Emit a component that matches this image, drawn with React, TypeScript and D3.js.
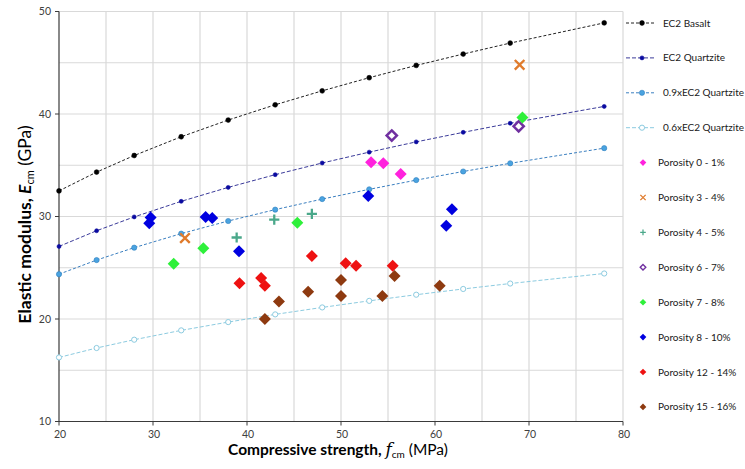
import React from "react";
import * as d3 from "d3";

// EC2 reference lines (compressive strength fcm, MPa)
const ec2Fcm = [20, 24, 28, 33, 38, 43, 48, 53, 58, 63, 68, 78];
const ec2Basalt = [32.5, 34.33, 35.95, 37.78, 39.41, 40.9, 42.26, 43.54, 44.74, 45.85, 46.92, 48.89];
const ec2Quartzite = [27.08, 28.61, 29.96, 31.48, 32.84, 34.08, 35.22, 36.28, 37.28, 38.21, 39.1, 40.74];
const ec2Q09 = [24.37, 25.75, 26.96, 28.33, 29.56, 30.67, 31.7, 32.65, 33.55, 34.39, 35.19, 36.67];
const ec2Q06 = [16.25, 17.17, 17.98, 18.89, 19.7, 20.45, 21.13, 21.77, 22.37, 22.93, 23.46, 24.44];

// Measured data [fcm, Ecm]
const por0_1: [number, number][] = [[53.2, 35.3], [54.5, 35.2], [56.35, 34.15]];
const por3_4: [number, number][] = [[33.4, 27.9], [69.0, 44.8]];
const por4_5: [number, number][] = [[38.9, 27.95], [42.9, 29.7], [46.9, 30.25]];
const por6_7: [number, number][] = [[55.4, 37.9], [68.9, 38.8]];
const por7_8: [number, number][] = [[32.2, 25.4], [35.35, 26.9], [45.35, 29.4], [69.3, 39.65]];
const por8_10: [number, number][] = [[29.6, 29.35], [29.75, 29.9], [35.6, 29.95], [36.3, 29.85], [39.15, 26.6], [52.9, 32.0], [61.2, 29.1], [61.8, 30.7]];
const por12_14: [number, number][] = [[39.2, 23.5], [41.5, 24.0], [41.9, 23.25], [46.9, 26.15], [50.5, 25.45], [51.6, 25.2], [55.5, 25.2]];
const por15_16: [number, number][] = [[41.9, 20.0], [43.4, 21.7], [46.5, 22.65], [50.0, 23.8], [50.0, 22.25], [54.4, 22.25], [55.7, 24.2], [60.5, 23.25]];

const xTicks = [20, 30, 40, 50, 60, 70, 80];
const yTicks = [10, 20, 30, 40, 50];
const gridX = [25, 30, 35, 40, 45, 50, 55, 60, 65, 70, 75, 80];
const gridY = [15, 20, 25, 30, 35, 40, 45, 50];

const lineSeries = [
  { name: "EC2 Basalt", values: ec2Basalt, line: "#222222", fill: "#000000", stroke: "#000000", r: 2.4, dash: "3,2" },
  { name: "EC2 Quartzite", values: ec2Quartzite, line: "#3b3b9a", fill: "#0a0aa0", stroke: "#0a0aa0", r: 2.0, dash: "4,2" },
  { name: "0.9xEC2 Quartzite", values: ec2Q09, line: "#3b7fc0", fill: "#4aa3e0", stroke: "#2f7fbf", r: 2.6, dash: "3,2" },
  { name: "0.6xEC2 Quartzite", values: ec2Q06, line: "#8ccbe0", fill: "#ffffff", stroke: "#8ccbe0", r: 2.6, dash: "4,2" },
];

type Kind = "diamond" | "x" | "plus" | "open";
const scatterSeries: { name: string; data: [number, number][]; color: string; kind: Kind }[] = [
  { name: "Porosity 0 - 1%", data: por0_1, color: "#ff22dd", kind: "diamond" },
  { name: "Porosity 3 - 4%", data: por3_4, color: "#e07b2c", kind: "x" },
  { name: "Porosity 4 - 5%", data: por4_5, color: "#4aa88a", kind: "plus" },
  { name: "Porosity 6 - 7%", data: por6_7, color: "#7030a0", kind: "open" },
  { name: "Porosity 7 - 8%", data: por7_8, color: "#2ef03a", kind: "diamond" },
  { name: "Porosity 8 - 10%", data: por8_10, color: "#0000e0", kind: "diamond" },
  { name: "Porosity 12 - 14%", data: por12_14, color: "#ee1111", kind: "diamond" },
  { name: "Porosity 15 - 16%", data: por15_16, color: "#8e3a10", kind: "diamond" },
];

const W = 745, H = 469;
const margin = { left: 59, right: 623, top: 11.5, bottom: 421.5 };
const FONT = "Lato, 'Open Sans', sans-serif";

function Marker({ kind, color, x, y, s }: { kind: Kind; color: string; x: number; y: number; s: number }) {
  if (kind === "diamond") {
    return <path d={`M${x},${y - s}L${x + s},${y}L${x},${y + s}L${x - s},${y}Z`} fill={color} />;
  }
  if (kind === "open") {
    const r = s * 0.85;
    return <path d={`M${x},${y - r}L${x + r},${y}L${x},${y + r}L${x - r},${y}Z`} fill="#fff" stroke={color} strokeWidth={s * 0.42} />;
  }
  if (kind === "x") {
    const r = s * 0.8;
    return (
      <path d={`M${x - r},${y - r}L${x + r},${y + r}M${x - r},${y + r}L${x + r},${y - r}`} stroke={color} strokeWidth={s * 0.4} />
    );
  }
  const r = s * 0.85;
  return <path d={`M${x - r},${y}L${x + r},${y}M${x},${y - r}L${x},${y + r}`} stroke={color} strokeWidth={s * 0.38} />;
}

export default function App() {
  const x = d3.scaleLinear().domain([20, 80]).range([margin.left, margin.right]);
  const y = d3.scaleLinear().domain([10, 50]).range([margin.bottom, margin.top]);
  const line = d3.line<number>().x((_, i) => x(ec2Fcm[i])).y((d) => y(d));
  const legendY = (i: number) => 23 + i * 34.9;

  return (
    <svg width={W} height={H} style={{ position: "absolute", left: 0, top: 0, background: "#fff" }} fontFamily={FONT}>
      <rect width={W} height={H} fill="#fff" />
      {/* grid */}
      {gridX.map((g) => (
        <line key={"gx" + g} x1={x(g)} x2={x(g)} y1={y(10)} y2={y(50)} stroke="#d9d9d9" strokeWidth={1.2} />
      ))}
      {gridY.map((g) => (
        <line key={"gy" + g} x1={x(20)} x2={x(80)} y1={y(g)} y2={y(g)} stroke="#d9d9d9" strokeWidth={1.2} />
      ))}
      {/* axes */}
      <line x1={x(20)} x2={x(20)} y1={y(10)} y2={y(50)} stroke="#3a3a3a" strokeWidth={1.2} />
      <line x1={x(20)} x2={x(80)} y1={y(10)} y2={y(10)} stroke="#3a3a3a" strokeWidth={1.2} />
      {yTicks.map((t) => (
        <g key={"yt" + t}>
          <line x1={x(20) - 4} x2={x(20)} y1={y(t)} y2={y(t)} stroke="#3a3a3a" strokeWidth={1} />
          <text x={x(20) - 8} y={y(t)} dy="0.35em" textAnchor="end" fontSize={10.5} fill="#404040">{t}</text>
        </g>
      ))}
      {xTicks.map((t) => (
        <g key={"xt" + t}>
          <line x1={x(t)} x2={x(t)} y1={y(10)} y2={y(10) + 4} stroke="#3a3a3a" strokeWidth={1} />
          <text x={x(t) + 1} y={y(10) + 16} textAnchor="middle" fontSize={10.5} fill="#404040">{t}</text>
        </g>
      ))}
      {/* EC2 lines */}
      {lineSeries.map((s) => (
        <g key={s.name}>
          <path d={line(s.values) || ""} fill="none" stroke={s.line} strokeWidth={1} strokeDasharray={s.dash} />
          {s.values.map((v, i) => (
            <circle key={i} cx={x(ec2Fcm[i])} cy={y(v)} r={s.r} fill={s.fill} stroke={s.stroke} strokeWidth={s.fill === "#ffffff" ? 1 : 0.6} />
          ))}
        </g>
      ))}
      {/* scatter */}
      {scatterSeries.map((s) => (
        <g key={s.name}>
          {s.data.map((d, i) => (
            <Marker key={i} kind={s.kind} color={s.color} x={x(d[0])} y={y(d[1])} s={6} />
          ))}
        </g>
      ))}
      {/* axis titles */}
      <text x={338} y={455} textAnchor="middle" fontSize={15.5} fontWeight="bold" fill="#000">
        Compressive strength,{" "}
        <tspan fontFamily="'DejaVu Serif', serif" fontStyle="italic" fontWeight="normal" fontSize={17}>f</tspan>
        <tspan fontSize={10} fontWeight="normal" dy={3}>cm</tspan>
        <tspan dy={-3} fontWeight="normal"> (MPa)</tspan>
      </text>
      <text transform={`translate(31,${(margin.top + margin.bottom) / 2 + 8}) rotate(-90)`} textAnchor="middle" fontSize={17.5} fontWeight="bold" fill="#000">
        Elastic modulus,{" "}
        <tspan fontStyle="italic">E</tspan>
        <tspan fontSize={11} fontWeight="normal" dy={3}>cm</tspan>
        <tspan dy={-3} fontWeight="normal"> (GPa)</tspan>
      </text>
      {/* legend */}
      {lineSeries.map((s, i) => (
        <g key={"lg" + s.name}>
          <line x1={626} x2={656} y1={legendY(i)} y2={legendY(i)} stroke={s.line} strokeWidth={1} strokeDasharray={s.dash} />
          <circle cx={642} cy={legendY(i)} r={s.r} fill={s.fill} stroke={s.stroke} strokeWidth={s.fill === "#ffffff" ? 1 : 0.6} />
          <text x={663} y={legendY(i)} dy="0.35em" fontSize={10} fill="#202020">{s.name}</text>
        </g>
      ))}
      {scatterSeries.map((s, i) => (
        <g key={"ls" + s.name}>
          <Marker kind={s.kind} color={s.color} x={643} y={legendY(i + 4)} s={3.3} />
          <text x={658} y={legendY(i + 4)} dy="0.35em" fontSize={10} fill="#202020">{s.name}</text>
        </g>
      ))}
    </svg>
  );
}
